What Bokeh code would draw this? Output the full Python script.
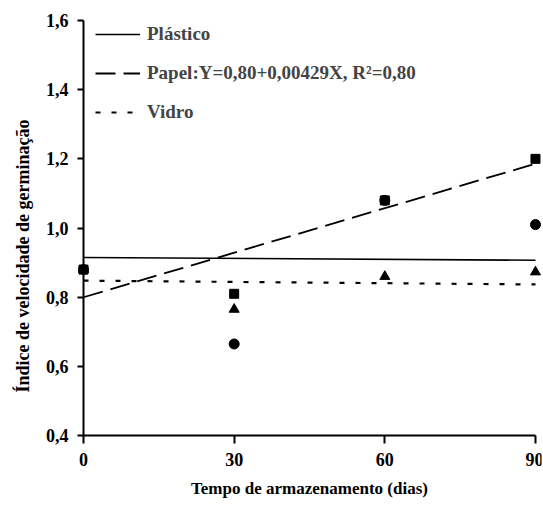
from bokeh.plotting import figure
from bokeh.models import Range1d, FixedTicker, Legend, LegendItem, LinearAxis
from bokeh.embed import file_html
from bokeh.resources import INLINE

# Data
dias = [0, 30, 60, 90]
plastico = [0.88, 0.665, 1.08, 1.01]     # circles
papel = [0.88, 0.81, 1.08, 1.20]         # squares
vidro = [0.88, 0.765, 0.86, 0.873]       # triangles

fit_x = [0, 90]
plastico_fit = [0.915, 0.907]
vidro_fit = [0.848, 0.837]
papel_a, papel_b = 0.80, 0.00429
papel_fit = [papel_a + papel_b * x for x in fit_x]

y_ticks = [0.4, 0.6, 0.8, 1.0, 1.2, 1.4, 1.6]
y_tick_labels = ["0,4", "0,6", "0,8", "1,0", "1,2", "1,4", "1,6"]
x_ticks = [0, 30, 60, 90]

FONT = "Liberation Serif"

p = figure(width=543, height=511, output_backend="svg", toolbar_location=None,
           x_range=Range1d(-1.2, 91.2), y_range=Range1d(0.1808, 1.6577),
           min_border_left=77, min_border_right=2, min_border_top=0, min_border_bottom=0)
p.outline_line_color = None
p.grid.visible = False
p.background_fill_color = "white"

l1 = p.line(fit_x, plastico_fit, line_color="black", line_width=1.6)
l2 = p.line(fit_x, papel_fit, line_color="black", line_width=1.8, line_dash="20 8")
l3 = p.line(fit_x, vidro_fit, line_color="black", line_width=2.2, line_dash="5 11")

p.scatter(dias, vidro, marker="triangle", size=10, color="black")
p.scatter(dias, papel, marker="square", size=9, color="black")
p.scatter(dias, plastico, marker="circle", size=10, color="black")


def style(ax):
    ax.axis_line_width = 2
    ax.major_tick_line_width = 2
    ax.major_tick_in = 0
    ax.major_tick_out = 8
    ax.minor_tick_line_color = None
    ax.major_label_text_font = FONT
    ax.major_label_text_font_style = "bold"
    ax.major_label_text_font_size = "18px"
    ax.major_label_text_color = "black"
    ax.axis_label_text_font = FONT
    ax.axis_label_text_font_style = "bold"
    ax.axis_label_text_font_size = "18px"
    ax.axis_label_text_color = "black"


# Left panel axis: tick labels and title only
yax = p.yaxis[0]
style(yax)
yax.ticker = FixedTicker(ticks=y_ticks)
yax.major_label_overrides = dict(zip(y_ticks, y_tick_labels))
yax.axis_line_color = None
yax.major_tick_line_color = None
yax.major_tick_out = 0
yax.major_label_standoff = 9
yax.axis_label = "Índice de velocidade de germinação"
yax.axis_label_standoff = 10

# Axis line and ticks at x = 0 (no labels)
yline = LinearAxis(ticker=FixedTicker(ticks=y_ticks), fixed_location=0, bounds=(0.4, 1.6))
style(yline)
yline.major_label_text_color = None
yline.major_label_standoff = 0
p.add_layout(yline, "left")

xax = p.xaxis[0]
style(xax)
xax.ticker = FixedTicker(ticks=x_ticks)
xax.fixed_location = 0.4
xax.bounds = (0, 90)
xax.major_label_standoff = 9
xax.axis_label = "Tempo de armazenamento (dias)"
xax.axis_label_text_font_size = "17px"
xax.axis_label_standoff = 10

legend = Legend(items=[
    LegendItem(label="Plástico", renderers=[l1]),
    LegendItem(label="Papel:Y=0,80+0,00429X, R²=0,80", renderers=[l2]),
    LegendItem(label="Vidro", renderers=[l3]),
], location=(18, 388), padding=0, margin=0, spacing=17,
   glyph_width=45, glyph_height=20, label_height=20, label_standoff=7,
   border_line_color=None, background_fill_alpha=0,
   label_text_font=FONT, label_text_font_style="bold", label_text_font_size="19px")
p.add_layout(legend)

open("out.html", "w").write(file_html(p, INLINE))
